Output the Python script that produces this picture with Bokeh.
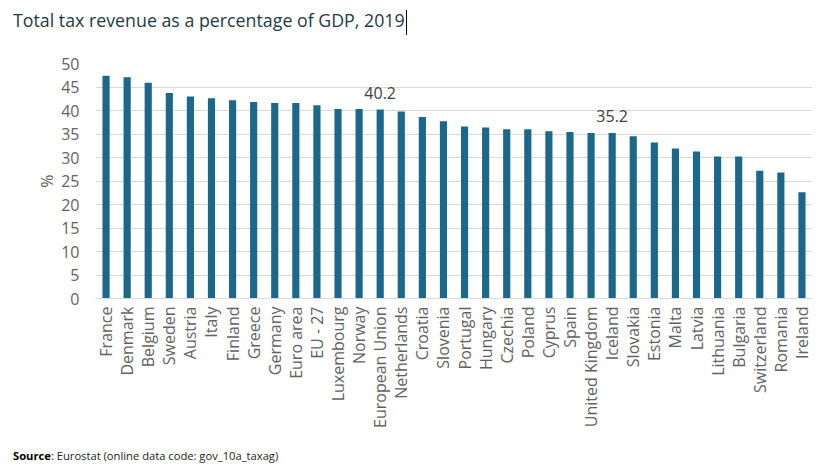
from math import pi

from bokeh.core.properties import value
from bokeh.embed import file_html
from bokeh.layouts import column
from bokeh.models import ColumnDataSource, Div, FactorRange, LabelSet, Range1d
from bokeh.plotting import figure
from bokeh.resources import INLINE

# Total tax revenue, % of GDP, 2019
countries = [
    "France", "Denmark", "Belgium", "Sweden", "Austria", "Italy", "Finland",
    "Greece", "Germany", "Euro area", "EU - 27", "Luxembourg", "Norway",
    "European Union", "Netherlands", "Croatia", "Slovenia", "Portugal",
    "Hungary", "Czechia", "Poland", "Cyprus", "Spain", "United Kingdom",
    "Iceland", "Slovakia", "Estonia", "Malta", "Latvia", "Lithuania",
    "Bulgaria", "Switzerland", "Romania", "Ireland",
]
tax_share = [
    47.4, 47.1, 45.9, 43.7, 43.0, 42.6, 42.2,
    41.8, 41.6, 41.6, 41.1, 40.3, 40.3,
    40.2, 39.8, 38.6, 37.7, 36.6,
    36.4, 36.0, 36.0, 35.6, 35.4, 35.2,
    35.2, 34.5, 33.2, 31.9, 31.3, 30.2,
    30.2, 27.2, 26.8, 22.6,
]
labelled = ["European Union", "Iceland"]
y_ticks = [0, 5, 10, 15, 20, 25, 30, 35, 40, 45, 50]

title_text = "Total tax revenue as a percentage of GDP, 2019"
source_name = "Source"
source_text = ": Eurostat (online data code: gov_10a_taxag)"

FONT = "Open Sans"
BAR = "#1b688a"
GRID = "#d9d9d9"
AXIS_TEXT = "#626262"

src = ColumnDataSource(dict(country=countries, share=tax_share))
lab_src = ColumnDataSource(dict(
    country=[c for c in countries if c in labelled],
    share=[v for c, v in zip(countries, tax_share) if c in labelled],
    text=["%.1f" % v for c, v in zip(countries, tax_share) if c in labelled],
))

p = figure(
    width=825, height=400,
    x_range=FactorRange(*countries, range_padding=0),
    y_range=Range1d(0, 50),
    output_backend="svg", toolbar_location=None,
    min_border_left=95, min_border_right=13,
    min_border_top=23, min_border_bottom=142,
    margin=0,
)
p.outline_line_color = None
p.background_fill_color = "white"
p.border_fill_color = "white"

p.vbar(x="country", top="share", width=0.34, source=src,
       fill_color=BAR, line_color=None)

p.add_layout(LabelSet(
    x="country", y="share", text="text", source=lab_src,
    text_align="center", text_baseline="bottom", y_offset=11,
    text_font=value(FONT), text_font_size="16px", text_color="#404040",
))

# axes
p.xgrid.grid_line_color = None
p.ygrid.grid_line_color = GRID
p.ygrid.grid_line_width = 1
p.yaxis.ticker = y_ticks
p.yaxis.axis_line_color = None
p.yaxis.major_tick_line_color = None
p.yaxis.minor_tick_line_color = None
p.yaxis.major_label_text_font = FONT
p.yaxis.major_label_text_font_size = "16px"
p.yaxis.major_label_text_color = AXIS_TEXT
p.yaxis.major_label_standoff = 10
p.yaxis.axis_label = "%"
p.yaxis.axis_label_text_font = FONT
p.yaxis.axis_label_text_font_style = "normal"
p.yaxis.axis_label_text_font_size = "16px"
p.yaxis.axis_label_text_color = AXIS_TEXT
p.yaxis.axis_label_standoff = 0

p.xaxis.axis_line_color = GRID
p.xaxis.major_tick_line_color = None
p.xaxis.minor_tick_line_color = None
p.xaxis.major_label_orientation = pi / 2
p.xaxis.major_label_text_font = FONT
p.xaxis.major_label_text_font_size = "16px"
p.xaxis.major_label_text_color = AXIS_TEXT
p.xaxis.major_label_standoff = 2

# heading with a thin caret after it, and the source note below the chart
title_div = Div(
    text=(
        f'<div style="font-family:\'{FONT}\';font-size:17.8px;color:#243b45;'
        f'line-height:40px;height:40px;padding-left:13px;white-space:nowrap;">'
        f'{title_text}<span style="display:inline-block;width:1px;height:25px;'
        f'background:#000;vertical-align:middle;margin-left:1px;"></span></div>'
    ),
    width=825, height=40, margin=0,
)
source_div = Div(
    text=(
        f'<div style="font-family:\'{FONT}\';font-size:11.2px;color:#222;'
        f'line-height:32px;height:36px;padding-left:13px;white-space:nowrap;">'
        f'<b style="color:#000;">{source_name}</b>{source_text}</div>'
    ),
    width=825, height=36, margin=0,
)

layout = column(title_div, p, source_div, spacing=0, margin=0)

open("out.html", "w").write(file_html(layout, INLINE))
